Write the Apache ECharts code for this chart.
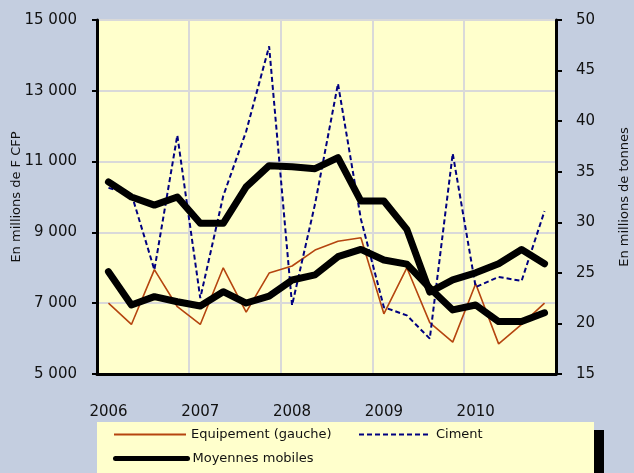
<!DOCTYPE html>
<html>
<head>
<meta charset="utf-8">
<script src="https://cdn.jsdelivr.net/npm/echarts@6/dist/echarts.min.js"></script>
<style>
  html, body { margin: 0; padding: 0; background: #c4cee0; }
  #chart { width: 634px; height: 473px; }
</style>
</head>
<body>
<div id="chart"></div>
<script>
// quarterly data, 2006 T1 .. 2010 T4
const quarters = ['2006 T1','2006 T2','2006 T3','2006 T4','2007 T1','2007 T2','2007 T3','2007 T4',
  '2008 T1','2008 T2','2008 T3','2008 T4','2009 T1','2009 T2','2009 T3','2009 T4',
  '2010 T1','2010 T2','2010 T3','2010 T4']
const yearLabels = ['2006', '2007', '2008', '2009', '2010']

// Equipement, millions de F CFP (left axis)
const equipement = [7000, 6400, 7950, 6900, 6400, 8000, 6750, 7850, 8050, 8500,
  8750, 8850, 6700, 8000, 6450, 5900, 7550, 5850, 6400, 7000]
const equipementMM = [7890, 6950, 7185, 7040, 6920, 7325, 7005, 7200, 7655, 7800,
  8315, 8520, 8220, 8105, 7430, 6810, 6950, 6480, 6480, 6730]

// Ciment, millions de tonnes (right axis)
const ciment = [33.4, 32.8, 25.3, 38.6, 22.5, 32.6, 39.0, 47.4, 21.8, 31.8,
  43.7, 30.3, 21.6, 20.8, 18.5, 36.8, 23.6, 24.6, 24.2, 31.1]
const cimentMM = [34.0, 32.5, 31.7, 32.5, 29.9, 29.9, 33.5, 35.6, 35.5, 35.3,
  36.4, 32.1, 32.1, 29.3, 23.1, 24.3, 25.0, 25.9, 27.3, 25.9]

const FONT = 'DejaVu Sans'
const chart = echarts.init(document.getElementById('chart'))

const fmtThousands = v => String(v).replace(/\B(?=(\d{3})+(?!\d))/g, '\u00a0')
const everyYear = i => i % 4 === 0

// one legend per entry so each sits where the reference puts it
const legendItem = (name, left, top, extra) => Object.assign({
  data: [name], left, top, padding: 0, itemWidth: 72, itemHeight: 14,
  itemStyle: { opacity: 0 },
  textStyle: { fontFamily: FONT, fontSize: 13, color: '#111' },
}, extra)

chart.setOption({
  backgroundColor: '#c4cee0',
  animation: false,
  textStyle: { fontFamily: FONT },
  grid: {
    left: 97, right: 78, top: 20, bottom: 99, outerBoundsMode: 'none',
    show: true, backgroundColor: '#ffffcc', borderWidth: 0,
  },
  graphic: [
    { type: 'rect', left: 105, top: 430, shape: { width: 499, height: 60 }, style: { fill: '#000' }, z: 0 },
    { type: 'rect', left: 97, top: 422, shape: { width: 497, height: 60 }, style: { fill: '#ffffcc' }, z: 1 },
  ],
  legend: [
    legendItem('Equipement (gauche)', 113, 428),
    legendItem('Ciment', 358, 428),
    legendItem('Moyennes mobiles', 113, 452, { lineStyle: { width: 5 } }),
  ],
  xAxis: {
    type: 'category', data: quarters, boundaryGap: true,
    axisLine: { onZero: false, lineStyle: { color: '#000', width: 3 } },
    axisTick: { interval: everyYear, length: 5, lineStyle: { color: '#000', width: 2 } },
    axisLabel: {
      interval: 0, margin: 31, color: '#111', fontSize: 15, fontFamily: FONT,
      formatter: (v, i) => (i % 4 === 0 ? yearLabels[i / 4] : ''),
    },
    splitLine: { show: true, interval: everyYear, lineStyle: { color: '#d9d9d9', width: 2 } },
  },
  yAxis: [
    {
      type: 'value', min: 5000, max: 15000, interval: 2000,
      name: 'En millions de F CFP', nameLocation: 'middle', nameGap: 74, nameMoveOverlap: false,
      nameTextStyle: { fontSize: 13, color: '#111', fontFamily: FONT },
      axisLine: { show: true, lineStyle: { color: '#000', width: 3 } },
      axisTick: { show: true, length: 5, lineStyle: { color: '#000', width: 2 } },
      axisLabel: { margin: 20, color: '#111', fontSize: 15, fontFamily: FONT, formatter: fmtThousands },
      splitLine: { show: true, lineStyle: { color: '#d9d9d9', width: 2 } },
    },
    {
      type: 'value', min: 15, max: 50, interval: 5, position: 'right',
      name: 'En millions de tonnes', nameLocation: 'middle', nameGap: 62, nameRotate: 90, nameMoveOverlap: false,
      nameTextStyle: { fontSize: 13, color: '#111', fontFamily: FONT },
      axisLine: { show: true, lineStyle: { color: '#000', width: 3 } },
      axisTick: { show: true, length: 6, lineStyle: { color: '#000', width: 2 } },
      axisLabel: { margin: 20, color: '#111', fontSize: 15, fontFamily: FONT },
      splitLine: { show: false },
    },
  ],
  series: [
    {
      name: 'Equipement (gauche)', type: 'line', yAxisIndex: 0, data: equipement,
      symbol: 'none', lineStyle: { color: '#b5450f', width: 1.6 }, itemStyle: { color: '#b5450f' }, z: 2,
    },
    {
      name: 'Ciment', type: 'line', yAxisIndex: 1, data: ciment,
      symbol: 'none', lineStyle: { color: '#000080', width: 2, type: [5, 3] }, itemStyle: { color: '#000080' }, z: 2,
    },
    {
      name: 'Moyennes mobiles', type: 'line', yAxisIndex: 0, data: equipementMM,
      symbol: 'none', lineStyle: { color: '#000', width: 7, cap: 'round', join: 'round' }, itemStyle: { color: '#000' }, z: 3,
    },
    {
      name: 'Moyennes mobiles', type: 'line', yAxisIndex: 1, data: cimentMM,
      symbol: 'none', lineStyle: { color: '#000', width: 7, cap: 'round', join: 'round' }, itemStyle: { color: '#000' }, z: 3,
    },
  ],
})
</script>
</body>
</html>
